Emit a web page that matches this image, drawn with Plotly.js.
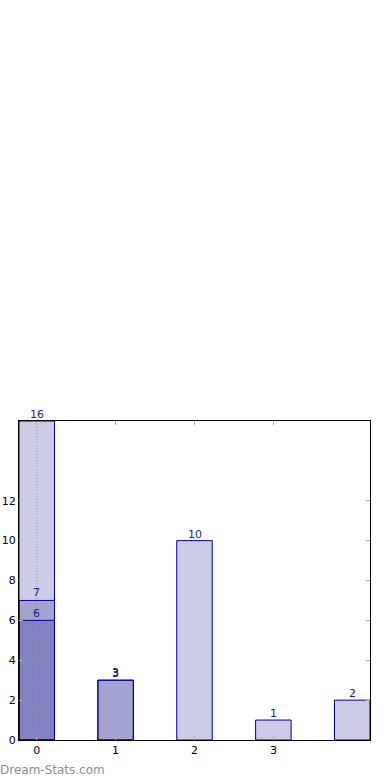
<!DOCTYPE html>
<html>
<head>
<meta charset="utf-8">
<script src="https://cdn.plot.ly/plotly-3.0.1.min.js"></script>
<style>html,body{margin:0;padding:0;background:#fff;}#chart{width:390px;height:780px;}</style>
</head>
<body>
<div id="chart"></div>
<script>
const categories = [0, 1, 2, 3, 4];
const seriesA = [16, 3, 10, 1, 2];
const seriesB = [7, 3, null, null, null];
const seriesC = [6, null, null, null, null];
const yTicks = [0, 2, 4, 6, 8, 10, 12];
const xTicks = [0, 1, 2, 3];
const xTickLabels = ['0', '1', '2', '3'];

function barTrace(vals) {
  return {
    type: 'bar',
    x: categories,
    y: vals,
    width: 0.45,
    marker: {color: 'rgba(0,0,128,0.2)', line: {color: '#00008b', width: 1}},
    hoverinfo: 'skip'
  };
}

const allSeries = [seriesA, seriesB, seriesC];
const data = allSeries.map(barTrace);

const labelAnnotations = [];
allSeries.forEach((vals, si) => {
  vals.forEach((v, i) => {
    if (v === null) return;
    labelAnnotations.push({
      x: categories[i], y: v, xref: 'x', yref: 'y',
      text: String(v), showarrow: false,
      xanchor: 'center', yanchor: 'bottom', yshift: -2 + (si === 1 ? 1 : 0),
      font: {family: 'DejaVu Sans', size: 11, color: '#1a1a8c'}
    });
  });
});

const layout = {
  width: 390, height: 780,
  margin: {l: 19, r: 20, t: 421, b: 40},
  paper_bgcolor: '#fff', plot_bgcolor: '#fff',
  barmode: 'overlay',
  showlegend: false,
  font: {family: 'DejaVu Sans', size: 11, color: '#000'},
  xaxis: {
    range: [-0.225, 4.225],
    tickvals: xTicks, ticktext: xTickLabels,
    ticks: 'inside', ticklen: 4, tickcolor: '#aaaaaa', tickwidth: 1,
    showline: true, linecolor: '#000', linewidth: 1, mirror: 'allticks',
    showgrid: false, zeroline: false,
    tickfont: {family: 'DejaVu Sans', size: 11, color: '#000'}
  },
  yaxis: {
    range: [0, 16],
    tickvals: yTicks,
    ticks: 'inside', ticklen: 4, tickcolor: '#aaaaaa', tickwidth: 1,
    showline: true, linecolor: '#000', linewidth: 1, mirror: 'allticks',
    showgrid: false, zeroline: false,
    tickfont: {family: 'DejaVu Sans', size: 11, color: '#000'}
  },
  shapes: [{
    type: 'line', xref: 'x', yref: 'paper', x0: 0, x1: 0, y0: 0, y1: 1,
    line: {color: '#999999', width: 1, dash: '1px,2px'}, layer: 'above'
  }],
  annotations: labelAnnotations.concat([{
    text: 'Dream-Stats.com', xref: 'paper', yref: 'paper',
    x: -19/351, y: -30/319, xanchor: 'left', yanchor: 'middle', showarrow: false,
    xshift: -2,
    font: {family: 'DejaVu Sans', size: 12, color: '#8c8c8c'}
  }])
};

Plotly.newPlot('chart', data, layout, {staticPlot: true, displayModeBar: false});
</script>
</body>
</html>
